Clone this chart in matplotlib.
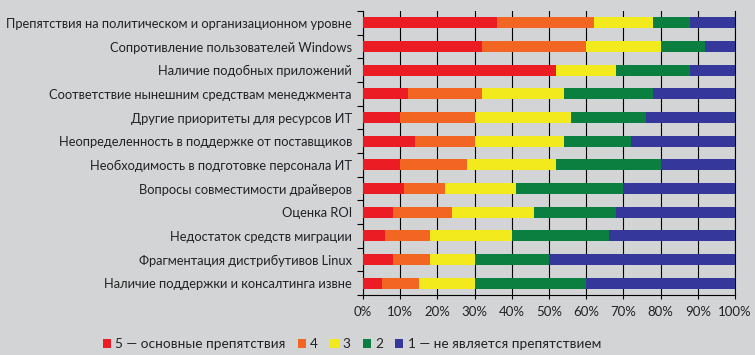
import matplotlib
matplotlib.use("Agg")
import matplotlib.pyplot as plt
from matplotlib.patches import Patch
import numpy as np

categories = [
    "Препятствия на политическом и организационном уровне",
    "Сопротивление пользователей Windows",
    "Наличие подобных приложений",
    "Соответствие нынешним средствам менеджмента",
    "Другие приоритеты для ресурсов ИТ",
    "Неопределенность в поддержке от поставщиков",
    "Необходимость в подготовке персонала ИТ",
    "Вопросы совместимости драйверов",
    "Оценка ROI",
    "Недостаток средств миграции",
    "Фрагментация дистрибутивов Linux",
    "Наличие поддержки и консалтинга извне",
]

s5 = [36, 32, 52, 12, 10, 14, 10, 11, 8, 6, 8, 5]
s4 = [26, 28, 0, 20, 20, 16, 18, 11, 16, 12, 10, 10]
s3 = [16, 20, 16, 22, 26, 24, 24, 19, 22, 22, 12, 15]
s2 = [10, 12, 20, 24, 20, 18, 28, 29, 22, 26, 20, 30]
s1 = [12, 8, 12, 22, 24, 28, 20, 30, 32, 34, 50, 40]

series_names = ["5 — основные препятствия", "4", "3", "2", "1 — не является препятствием"]
colors = ["#ec1c24", "#f26522", "#f2ea1c", "#0b7f40", "#35379a"]
xtick_labels = ["0%", "10%", "20%", "30%", "40%", "50%", "60%", "70%", "80%", "90%", "100%"]

bg = "#d3d4d6"
plt.rcParams["font.family"] = ["Lato", "DejaVu Sans"]

fig = plt.figure(figsize=(7.55, 3.55), dpi=100, facecolor=bg)
ax = fig.add_axes([363/755, 1-295/355, 372/755, 284/355])
ax.set_facecolor(bg)

y = np.arange(len(categories))
left = np.zeros(len(categories))
for vals, c in zip([s5, s4, s3, s2, s1], colors):
    v = np.array(vals, dtype=float)
    ax.barh(y, v, left=left, height=0.46, color=c, zorder=3, linewidth=0)
    left += v

ax.set_xlim(0, 100)
ax.set_ylim(len(categories) - 0.5, -0.5)
ax.set_xticks(np.arange(0, 101, 10))
ax.set_xticklabels(xtick_labels, fontsize=9.5, color="#222222")
ax.xaxis.grid(True, color="black", linewidth=0.8, zorder=1)
ax.tick_params(axis="x", length=3, width=0.8, pad=5)

ax.set_yticks(np.arange(len(categories) + 1) - 0.5)
ax.set_yticklabels([])
ax.set_yticks(y, minor=True)
ax.set_yticklabels(categories, minor=True, fontsize=9.3, color="#222222")
ax.tick_params(axis="y", which="major", length=4, width=0.8)
ax.tick_params(axis="y", which="minor", length=0, pad=8)

ax.spines["top"].set_visible(False)
for s in ["left", "bottom", "right"]:
    ax.spines[s].set_color("black")
    ax.spines[s].set_linewidth(0.8)

handles = [Patch(facecolor=c, edgecolor="none") for c in colors]
fig.legend(handles, series_names, loc="center", bbox_to_anchor=(352/755, 1-344/355),
           ncol=5, frameon=False, fontsize=9.8, handlelength=0.6, handleheight=0.6,
           handletextpad=0.3, columnspacing=0.9, labelcolor="#222222")

fig.savefig("out.png", dpi=100, facecolor=bg)
